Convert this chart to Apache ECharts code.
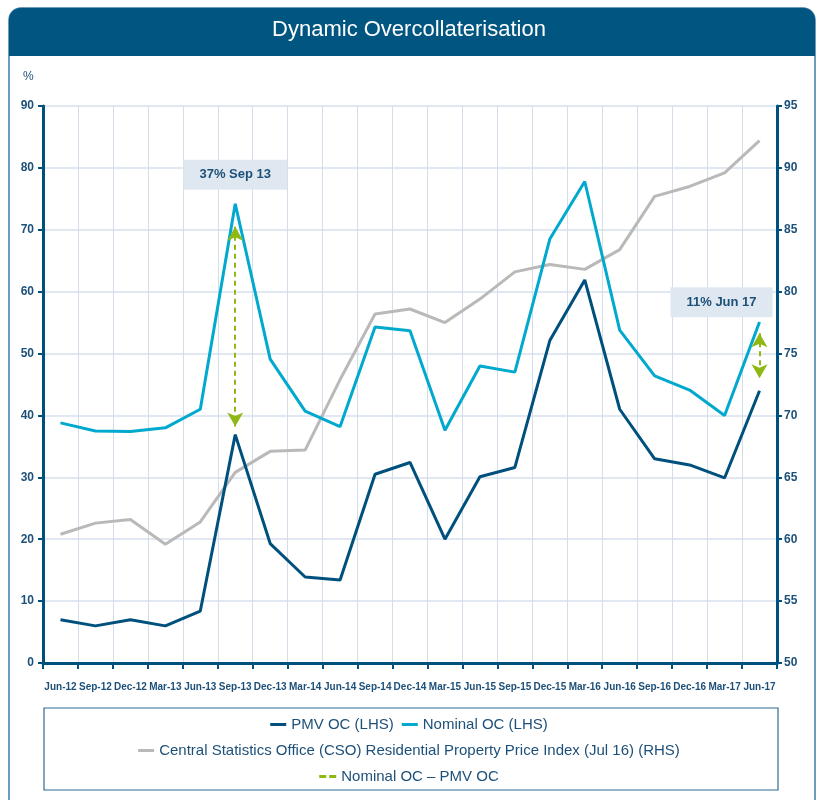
<!DOCTYPE html>
<html>
<head>
<meta charset="utf-8">
<title>Dynamic Overcollaterisation</title>
<script src="https://cdn.jsdelivr.net/npm/echarts@6/dist/echarts.min.js"></script>
<style>
  html, body { margin: 0; padding: 0; background: #fff; }
  #chart { width: 818px; height: 800px; }
</style>
</head>
<body>
<div id="chart"></div>
<script>
// quarters on the x axis
var categories = ['Jun-12', 'Sep-12', 'Dec-12', 'Mar-13', 'Jun-13', 'Sep-13', 'Dec-13', 'Mar-14', 'Jun-14',
  'Sep-14', 'Dec-14', 'Mar-15', 'Jun-15', 'Sep-15', 'Dec-15', 'Mar-16', 'Jun-16', 'Sep-16', 'Dec-16', 'Mar-17', 'Jun-17'];

// left axis (%)
var pmvOC = [7.0, 6.0, 7.0, 6.0, 8.4, 36.9, 19.3, 13.9, 13.4, 30.5, 32.4, 20.0, 30.1, 31.6, 52.1, 61.9, 41.0, 33.0, 32.0, 29.9, 44.0];
var nominalOC = [38.8, 37.5, 37.4, 38.0, 41.0, 74.2, 49.1, 40.7, 38.2, 54.3, 53.7, 37.6, 48.0, 47.0, 68.5, 77.8, 53.8, 46.4, 44.1, 40.0, 55.1];

// right axis (index)
var csoIndex = [60.4, 61.3, 61.6, 59.6, 61.4, 65.4, 67.1, 67.2, 72.9, 78.2, 78.6, 77.5, 79.4, 81.6, 82.2, 81.8, 83.4, 87.7, 88.5, 89.6, 92.2];

// arrows between nominal and pmv
var gapCategories = ['Sep-13', 'Jun-17'];
var gapTop = [70.5, 53.3];
var gapBottom = [38.2, 46.0];
var gapLabels = ['37% Sep 13', '11% Jun 17'];
var gapLabelY = [78.9, 58.3];

var leftTicks = { min: 0, max: 90, interval: 10 };
var rightTicks = { min: 50, max: 95, interval: 5 };

var navy = '#00507d';
var cyan = '#00a9cd';
var grey = '#b9b9b9';
var green = '#8fb814';
var textBlue = '#1d5079';

var chart = echarts.init(document.getElementById('chart'));

var arrowLines = gapCategories.map(function (c, i) {
  return [{ coord: [c, gapTop[i]] }, { coord: [c, gapBottom[i]] }];
});
var boxes = gapCategories.map(function (c, i) {
  return {
    coord: [c, gapLabelY[i]],
    label: { offset: i === 1 ? [-38, 0] : [0, 0] }
  };
});

var legendText = { color: textBlue, fontSize: 15, fontFamily: 'Liberation Sans, Arial, sans-serif' };
var solidIcon = 'path://M0,0h16v3h-16z';
var dashIcon = 'path://M0,0h7v3h-7z M10,0h7v3h-7z';

var option = {
  animation: false,
  textStyle: { fontFamily: 'Liberation Sans, Arial, sans-serif' },
  graphic: [
    // frame
    { type: 'rect', shape: { x: 9, y: 8, width: 806, height: 800, r: [12, 12, 0, 0] },
      style: { fill: '#fff', stroke: '#3f7ba4', lineWidth: 1.5 }, z: -10 },
    { type: 'rect', shape: { x: 9, y: 8, width: 806, height: 48, r: [12, 12, 0, 0] },
      style: { fill: '#005581' }, z: -9 },
    { type: 'text', left: 'center', top: 19,
      style: { text: 'Dynamic Overcollaterisation', fill: '#fff', fontSize: 22, fontFamily: 'Liberation Sans, Arial, sans-serif' } },
    { type: 'text', left: 23, top: 71, style: { text: '%', fill: textBlue, fontSize: 12 } },
    // legend box
    { type: 'rect', shape: { x: 44, y: 708, width: 734, height: 82 },
      style: { fill: 'none', stroke: '#2d6a95', lineWidth: 1.2 }, z: -5 }
  ],
  grid: { left: 43, right: 41, top: 106, bottom: 137 },
  legend: [
    { top: 712, left: 'center', itemWidth: 16, itemHeight: 3, itemGap: 8, textStyle: legendText,
      data: [{ name: 'PMV OC (LHS)', icon: solidIcon }, { name: 'Nominal OC (LHS)', icon: solidIcon }] },
    { top: 738, left: 'center', itemWidth: 16, itemHeight: 3, textStyle: legendText,
      data: [{ name: 'Central Statistics Office (CSO) Residential Property Price Index (Jul 16) (RHS)', icon: solidIcon }] },
    { top: 764, left: 'center', itemWidth: 17, itemHeight: 3, textStyle: legendText,
      data: [{ name: 'Nominal OC \u2013 PMV OC', icon: dashIcon }] }
  ],
  xAxis: {
    type: 'category',
    data: categories,
    boundaryGap: true,
    axisLine: { lineStyle: { color: navy, width: 3 } },
    axisTick: { show: true, length: 6, lineStyle: { color: navy, width: 2 } },
    axisLabel: { interval: 0, margin: 19, color: textBlue, fontSize: 10, fontWeight: 'bold' },
    splitLine: { show: true, interval: 0, lineStyle: { color: '#d3deea', width: 1 } }
  },
  yAxis: [
    {
      type: 'value', min: leftTicks.min, max: leftTicks.max, interval: leftTicks.interval,
      axisLine: { show: true, lineStyle: { color: navy, width: 3 } },
      axisTick: { show: true, length: 5, lineStyle: { color: navy, width: 2 } },
      axisLabel: { color: textBlue, fontSize: 12, fontWeight: 'bold', margin: 9 },
      splitLine: { show: true, lineStyle: { color: '#d8e1ec', width: 1.5 } }
    },
    {
      type: 'value', min: rightTicks.min, max: rightTicks.max, interval: rightTicks.interval,
      position: 'right',
      axisLine: { show: true, lineStyle: { color: navy, width: 3 } },
      axisTick: { show: true, length: 5, lineStyle: { color: navy, width: 2 } },
      axisLabel: { color: textBlue, fontSize: 12, fontWeight: 'bold', margin: 7 },
      splitLine: { show: false }
    }
  ],
  series: [
    {
      name: 'Central Statistics Office (CSO) Residential Property Price Index (Jul 16) (RHS)',
      type: 'line', yAxisIndex: 1, data: csoIndex, symbol: 'none',
      lineStyle: { color: grey, width: 3 }, itemStyle: { color: grey }, z: 2
    },
    {
      name: 'Nominal OC (LHS)',
      type: 'line', data: nominalOC, symbol: 'none',
      lineStyle: { color: cyan, width: 3 }, itemStyle: { color: cyan }, z: 3
    },
    {
      name: 'PMV OC (LHS)',
      type: 'line', data: pmvOC, symbol: 'none',
      lineStyle: { color: navy, width: 3 }, itemStyle: { color: navy }, z: 4
    },
    {
      name: 'Nominal OC \u2013 PMV OC',
      type: 'line', data: [], symbol: 'none',
      lineStyle: { color: green, width: 3, type: 'dashed' }, itemStyle: { color: green }, z: 5,
      markLine: {
        silent: true,
        symbol: ['arrow', 'arrow'],
        symbolSize: [12, 14],
        label: { show: false },
        lineStyle: { color: green, width: 2, type: [5, 4] },
        data: arrowLines
      },
      markPoint: {
        silent: true,
        symbol: 'rect',
        symbolSize: 0,
        label: {
          show: true,
          formatter: function (p) { return gapLabels[p.dataIndex]; },
          color: textBlue, fontSize: 13, fontWeight: 'bold',
          backgroundColor: '#dfe8f0',
          padding: [9, 16, 8, 16]
        },
        data: boxes
      }
    }
  ]
};

chart.setOption(option);
</script>
</body>
</html>
